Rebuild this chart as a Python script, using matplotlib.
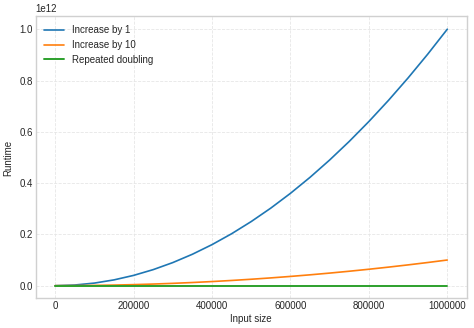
import matplotlib
matplotlib.use('Agg')
import matplotlib.pyplot as plt
import numpy as np

# input sizes and runtimes
sizes = [0, 50000, 100000, 150000, 200000, 250000, 300000, 350000, 400000, 450000,
         500000, 550000, 600000, 650000, 700000, 750000, 800000, 850000, 900000,
         950000, 1000000]
inc_by_1 = [0, 0.0025, 0.01, 0.0225, 0.04, 0.0625, 0.09, 0.1225, 0.16, 0.2025,
            0.25, 0.3025, 0.36, 0.4225, 0.49, 0.5625, 0.64, 0.7225, 0.81, 0.9025, 1.0]
inc_by_10 = [0, 0.00025, 0.001, 0.00225, 0.004, 0.00625, 0.009, 0.01225, 0.016, 0.02025,
             0.025, 0.03025, 0.036, 0.04225, 0.049, 0.05625, 0.064, 0.07225, 0.081, 0.09025, 0.1]
doubling = [0] * 21

plt.style.use('seaborn-v0_8-whitegrid')
plt.rcParams['font.family'] = ['Liberation Sans', 'DejaVu Sans']
plt.rcParams['font.size'] = 7

fig, ax = plt.subplots(figsize=(4.74, 3.28), dpi=100)
ax.plot(sizes, np.array(inc_by_1) * 1e12, color='#1f77b4', linewidth=1.2, label='Increase by 1')
ax.plot(sizes, np.array(inc_by_10) * 1e12, color='#ff7f0e', linewidth=1.2, label='Increase by 10')
ax.plot(sizes, doubling, color='#2ca02c', linewidth=1.4, label='Repeated doubling')

ax.set_xlabel('Input size', fontsize=7, labelpad=2)
ax.set_ylabel('Runtime', fontsize=7, labelpad=4)
ax.tick_params(labelsize=7, pad=2)
ax.ticklabel_format(axis='x', style='plain')
ax.grid(True, linestyle='--', linewidth=0.6, color='#e6e6e6')
for s in ax.spines.values():
    s.set_visible(True)
    s.set_color('#d0d0d0')
ax.legend(loc='upper left', fontsize=7, frameon=False)

fig.subplots_adjust(left=0.075, right=0.985, top=0.95, bottom=0.09)
plt.savefig('out.png', dpi=100)
